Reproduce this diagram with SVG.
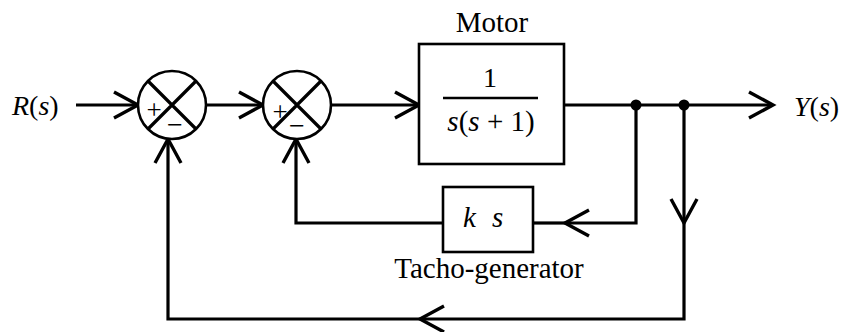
<svg xmlns="http://www.w3.org/2000/svg" width="842" height="332" viewBox="0 0 842 332">
<style>
.ln{fill:none;stroke:#000;stroke-width:3.2;stroke-linejoin:miter}
.bx{fill:#fff;stroke:#000;stroke-width:2.6}
.sj{fill:#fff;stroke:#000;stroke-width:2.6}
.t{font-family:"Liberation Serif","Times New Roman",serif;fill:#000}
.i{font-style:italic}
</style>
<defs>
<marker id="ah" markerUnits="userSpaceOnUse" orient="auto" overflow="visible" markerWidth="1" markerHeight="1" refX="0" refY="0">
<path d="M-24,-13 L0,0 L-24,13" fill="none" stroke="#000" stroke-width="3.4"/>
</marker>
</defs>
<rect width="842" height="332" fill="#fff"/>
<g id="connectors">
<path class="ln" d="M76,105 H138" marker-end="url(#ah)"/>
<path class="ln" d="M206,105 H263" marker-end="url(#ah)"/>
<path class="ln" d="M331,105 H419" marker-end="url(#ah)"/>
<path class="ln" d="M564,105 H773" marker-end="url(#ah)"/>
<path class="ln" d="M636,105 V223 H565" marker-end="url(#ah)"/>
<path class="ln" d="M565,223 H533"/>
<path class="ln" d="M443,223 H296 V139" marker-end="url(#ah)"/>
<path class="ln" d="M684,105 V223" marker-end="url(#ah)"/>
<path class="ln" d="M684,223 V319 H420" marker-end="url(#ah)"/>
<path class="ln" d="M420,319 H168 V139" marker-end="url(#ah)"/>
<circle cx="636" cy="105" r="5.5" fill="#000"/>
<circle cx="684" cy="105" r="5.5" fill="#000"/>
</g>
<g id="input">
<text class="t" x="12" y="115" font-size="28"><tspan class="i">R</tspan>(<tspan class="i">s</tspan>)</text>
</g>
<g id="sum1">
<circle class="sj" cx="172" cy="105" r="34"/>
<path class="ln" stroke-width="2.6" d="M148,81 L196,129 M196,81 L148,129"/>
<text class="t" x="154" y="119" font-size="27" text-anchor="middle">+</text>
<text class="t" x="175" y="134" font-size="28" text-anchor="middle">−</text>
</g>
<g id="sum2">
<circle class="sj" cx="297" cy="105" r="34"/>
<path class="ln" stroke-width="2.6" d="M273,81 L321,129 M321,81 L273,129"/>
<text class="t" x="280" y="121" font-size="27" text-anchor="middle">+</text>
<text class="t" x="297" y="135" font-size="28" text-anchor="middle">−</text>
</g>
<g id="motor">
<text class="t" x="492" y="32" font-size="29" text-anchor="middle">Motor</text>
<rect class="bx" x="419" y="44" width="145" height="120"/>
<text class="t" x="490" y="87" font-size="28" text-anchor="middle">1</text>
<line x1="443" y1="98" x2="538" y2="98" stroke="#000" stroke-width="2.6"/>
<text class="t" x="491" y="131" font-size="29" text-anchor="middle"><tspan class="i">s</tspan>(<tspan class="i">s</tspan> + 1)</text>
</g>
<g id="tacho">
<rect class="bx" x="443" y="187" width="90" height="65"/>
<text class="t i" x="463" y="227" font-size="29">k</text>
<text class="t i" x="492" y="227" font-size="29">s</text>
<text class="t" x="489" y="278" font-size="29" text-anchor="middle">Tacho-generator</text>
</g>
<g id="output">
<text class="t" x="794" y="116" font-size="28"><tspan class="i">Y</tspan>(<tspan class="i">s</tspan>)</text>
</g>
</svg>
